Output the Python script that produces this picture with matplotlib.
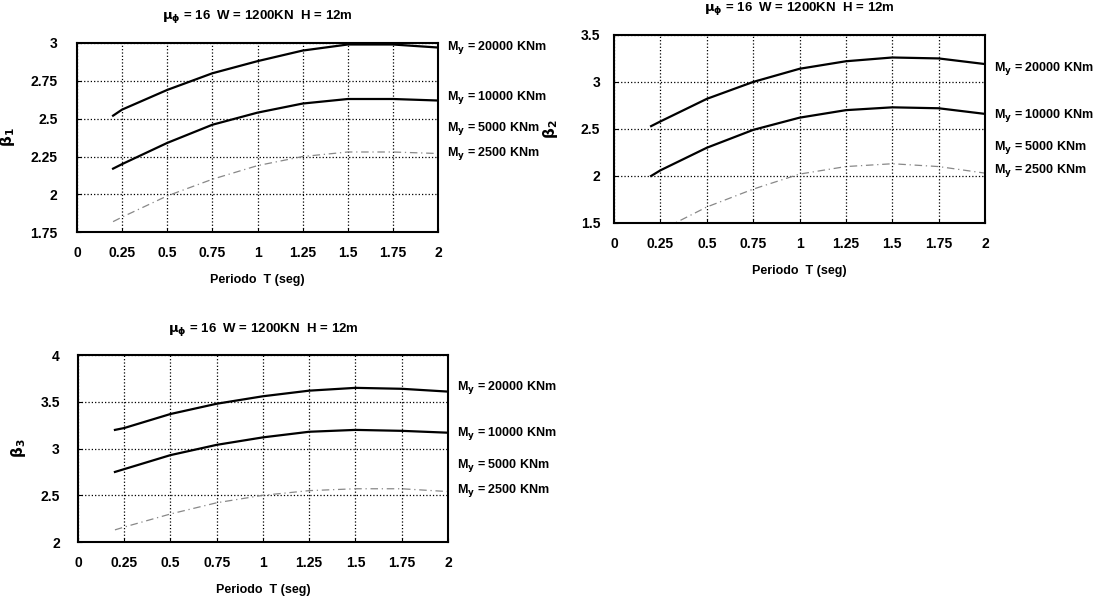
import numpy as np
import matplotlib.pyplot as plt

plt.rcParams['font.family'] = ['Liberation Sans', 'DejaVu Sans']
plt.rcParams['font.weight'] = 'bold'
plt.rcParams['mathtext.default'] = 'bf'

# periodo T (seg)
T = [0.2, 0.25, 0.5, 0.75, 1.0, 1.25, 1.5, 1.75, 2.0]

# beta1
b1_20000 = [2.52, 2.56, 2.69, 2.80, 2.88, 2.95, 2.99, 2.99, 2.97]
b1_10000 = [2.17, 2.20, 2.34, 2.46, 2.54, 2.60, 2.63, 2.63, 2.62]
b1_2500 = [1.82, 1.85, 1.99, 2.10, 2.19, 2.25, 2.28, 2.28, 2.27]

# beta2
b2_20000 = [2.53, 2.58, 2.82, 3.00, 3.14, 3.22, 3.26, 3.25, 3.19]
b2_10000 = [2.00, 2.06, 2.30, 2.49, 2.62, 2.70, 2.73, 2.72, 2.66]
b2_2500 = [1.38, 1.42, 1.67, 1.86, 2.02, 2.10, 2.13, 2.10, 2.03]

# beta3
b3_20000 = [3.20, 3.22, 3.37, 3.48, 3.56, 3.62, 3.65, 3.64, 3.61]
b3_10000 = [2.75, 2.78, 2.93, 3.04, 3.12, 3.18, 3.20, 3.19, 3.17]
b3_2500 = [2.13, 2.16, 2.30, 2.42, 2.50, 2.55, 2.57, 2.57, 2.54]

leyendas = ['M$_y$ = 20000 KNm', 'M$_y$ = 10000 KNm',
            'M$_y$ = 5000 KNm', 'M$_y$ = 2500 KNm']
titulo = r'$\mu_\phi$ = 16  W = 1200KN  H = 12m'
xticks = [0, 0.25, 0.5, 0.75, 1, 1.25, 1.5, 1.75, 2]
xtick_lab = ['0', '0.25', '0.5', '0.75', '1', '1.25', '1.5', '1.75', '2']

fig = plt.figure(figsize=(11.01, 5.97), dpi=100)

# (rect, ylim, yticks, ylabel, curvas, y etiquetas (fraccion de ejes), pad y, x del ylabel)
paneles = [
    ([0.0699, 0.611, 0.328, 0.317], (1.75, 3), [1.75, 2, 2.25, 2.5, 2.75, 3],
     ['1.75', '2', '2.25', '2.5', '2.75', '3'], r'$\beta_1$',
     (b1_20000, b1_10000, b1_2500), [0.974, 0.714, 0.550, 0.418], 14, -0.165),
    ([0.5577, 0.6265, 0.337, 0.315], (1.5, 3.5), [1.5, 2, 2.5, 3, 3.5],
     ['1.5', '2', '2.5', '3', '3.5'], r'$\beta_2$',
     (b2_20000, b2_10000, b2_2500), [0.824, 0.569, 0.404, 0.277], 10, -0.145),
    ([0.0708, 0.0921, 0.336, 0.313], (2, 4), [2, 2.5, 3, 3.5, 4],
     ['2', '2.5', '3', '3.5', '4'], r'$\beta_3$',
     (b3_20000, b3_10000, b3_2500), [0.829, 0.583, 0.412, 0.278], 13, -0.135),
]

for rect, ylim, yt, ytl, ylab, curvas, ypos, padY, xlab in paneles:
    ax = fig.add_axes(rect)
    ax.plot(T, curvas[0], color='black', lw=1.6)
    ax.plot(T, curvas[1], color='black', lw=1.6)
    ax.plot(T, curvas[2], color='#888888', lw=0.9, ls=(0, (6, 3, 1, 3)))
    ax.set_xlim(0, 2)
    ax.set_ylim(*ylim)
    ax.set_xticks(xticks)
    ax.set_xticklabels(xtick_lab)
    ax.set_yticks(yt)
    ax.set_yticklabels(ytl)
    ax.grid(True, color='black', ls=':', lw=0.9)
    ax.tick_params(direction='in', length=3, labelsize=10)
    ax.tick_params(axis='x', pad=10)
    ax.tick_params(axis='y', pad=padY)
    for s in ax.spines.values():
        s.set_linewidth(1.5)
    ax.set_title(titulo, fontsize=9.5, fontweight='bold', pad=17)
    ax.set_xlabel('Periodo  T (seg)', fontsize=9, fontweight='bold', labelpad=10)
    ax.set_ylabel(ylab, fontsize=11)
    ax.yaxis.set_label_coords(xlab, 0.5)
    for txt, yp in zip(leyendas, ypos):
        ax.text(1.025, yp, txt, transform=ax.transAxes, fontsize=9,
                fontweight='bold', va='center', ha='left')

fig.savefig('out.png', dpi=100)
